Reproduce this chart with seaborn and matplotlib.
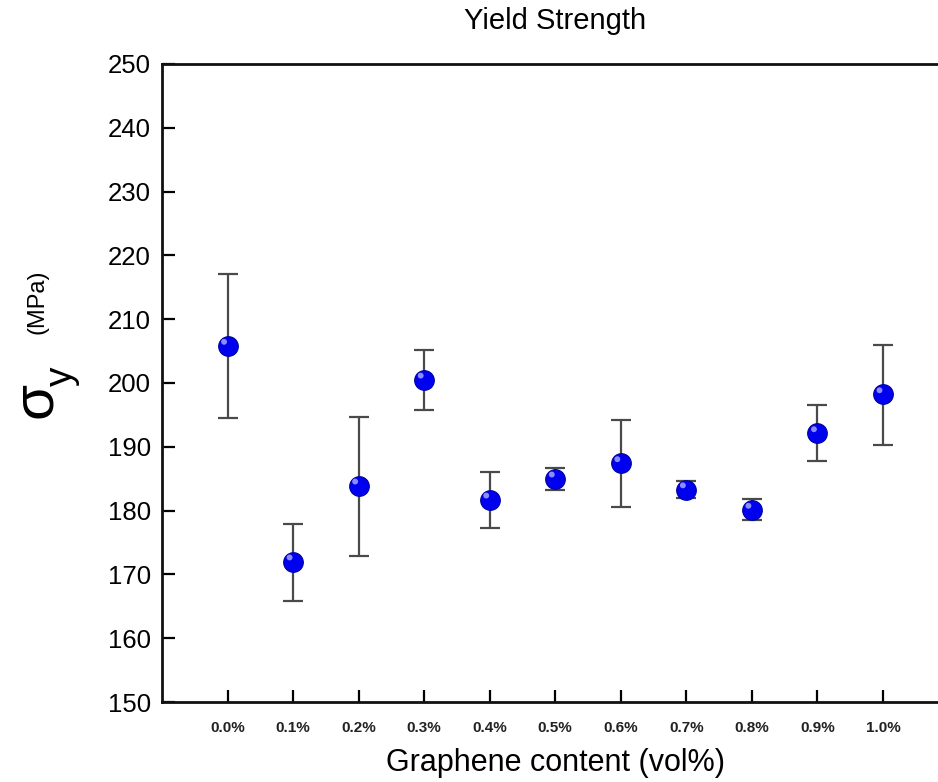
import numpy as np
import pandas as pd
import matplotlib
matplotlib.use("Agg")
import matplotlib.pyplot as plt
import matplotlib.transforms as mtransforms
import seaborn as sns

# Values
content = ["0.0%", "0.1%", "0.2%", "0.3%", "0.4%", "0.5%", "0.6%", "0.7%", "0.8%", "0.9%", "1.0%"]
strength = [205.8, 172.0, 183.9, 200.5, 181.7, 185.0, 187.4, 183.3, 180.1, 192.1, 198.2]
err_low = [11.3, 6.1, 11.0, 4.8, 4.5, 1.8, 6.8, 1.4, 1.6, 4.4, 7.9]
err_high = [11.3, 5.9, 10.8, 4.7, 4.4, 1.7, 6.8, 1.4, 1.7, 4.4, 7.7]

df = pd.DataFrame({"content": content, "strength": strength})
df["pos"] = np.arange(len(content))

sns.set_style("ticks")
plt.rcParams["font.family"] = ["Liberation Sans", "DejaVu Sans"]
plt.rcParams["text.color"] = "black"
plt.rcParams["axes.labelcolor"] = "black"
plt.rcParams["xtick.color"] = "black"
plt.rcParams["ytick.color"] = "black"

fig = plt.figure(figsize=(9.38, 7.82), dpi=100)
ax = fig.add_axes([0.1727, 0.1023, 0.8385, 0.8159])

# error bars
ax.errorbar(df["pos"], df["strength"], yerr=[err_low, err_high], fmt="none",
            ecolor="#4a4a4a", elinewidth=1.6, capsize=7, capthick=1.6, zorder=2)

# blue "sphere" markers
sns.scatterplot(data=df, x="pos", y="strength", s=200, color="#0000f0",
                edgecolor="#0000a0", linewidth=0.8, zorder=3, ax=ax)
# small highlight to mimic the shaded sphere
hl = mtransforms.offset_copy(ax.transData, fig=fig, x=-2.5, y=3, units="points")
ax.scatter(df["pos"], df["strength"], s=18, color="#8c8cff", edgecolor="none",
           transform=hl, zorder=4)

ax.set_xlim(-1, 11)
ax.set_ylim(150, 250)
ax.set_xticks(df["pos"])
ax.set_xticklabels(content, fontsize=11, fontweight="bold", color="#222222")
ax.set_yticks(np.arange(150, 251, 10))
ax.tick_params(axis="y", labelsize=18.5, direction="in", length=9, width=1.6, pad=8)
ax.tick_params(axis="x", direction="in", length=9, width=1.6, pad=14)
for side in ["left", "bottom", "top", "right"]:
    ax.spines[side].set_linewidth(2)
    ax.spines[side].set_color("#111111")

ax.set_xlabel("Graphene content (vol%)", fontsize=22, labelpad=9)
ax.set_ylabel("")
ax.set_title("Yield Strength", fontsize=21, pad=25)

# composite y label: sigma_y (MPa)
fig.text(0.038, 0.488, "σ", rotation=90, fontsize=42, ha="center", va="center")
fig.text(0.066, 0.519, "y", rotation=90, fontsize=28, ha="center", va="center")
fig.text(0.040, 0.614, "(MPa)", rotation=90, fontsize=17, ha="center", va="center")

fig.savefig("out.png", dpi=100)
